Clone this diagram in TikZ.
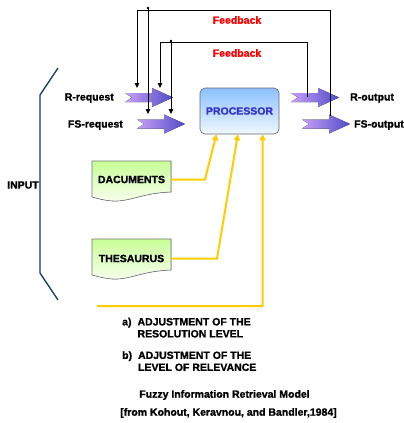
\documentclass[tikz,border=0pt]{standalone}
\usepackage{fontspec}
\setmainfont{Liberation Sans}[BoldFeatures={FakeBold=1.2}]
\usetikzlibrary{arrows.meta,calc}

\definecolor{arrowlight}{RGB}{200,160,245}
\definecolor{arrowdark}{RGB}{80,76,200}
\definecolor{proctop}{RGB}{140,192,255}
\definecolor{procbot}{RGB}{240,248,255}
\definecolor{proctext}{RGB}{50,50,200}
\definecolor{doctop}{RGB}{200,255,150}
\definecolor{docbot}{RGB}{248,255,240}
\definecolor{feedyellow}{RGB}{255,204,0}
\definecolor{bracketblue}{RGB}{20,60,110}

\begin{document}
\begin{tikzpicture}[x=1pt,y=-1pt,
  lbl/.style={font=\fontsize{10.5}{12}\selectfont\bfseries, inner sep=0pt},
  fb/.style={line width=0.8pt, -{Triangle[width=4.5pt,length=5pt]}},
  feed/.style={line width=2pt, draw=feedyellow, -{Triangle[width=6pt,length=6pt]}},
  proc/.style={lbl, draw=black!60, line width=0.6pt, rounded corners=5pt,
    minimum width=79pt, minimum height=46pt, top color=proctop, bottom color=procbot,
    text=proctext},
  doclbl/.style={lbl, minimum width=79pt},
  pics/fatarrow/.style={code={
    \fill[left color=arrowlight, right color=arrowdark]
      (0,-4.5) -- (27,-4.5) -- (27,-9.5) -- (48,0) -- (27,9.5) -- (27,4.5) -- (0,4.5) -- (7,0) -- cycle;}}
]
\useasboundingbox (0,0) rectangle (404,423);

% input bracket
\draw[bracketblue, line width=1.3pt] (58,68) -- (40,95) -- (40,273) -- (58,300);
\node[lbl] (input) at (23,185) {INPUT};

% documents
\foreach \dy in {0,78}
  \filldraw[draw=black!55, line width=0.6pt, top color=doctop, bottom color=docbot]
    (92,161+\dy) -- (171,161+\dy) -- (171,192+\dy)
    .. controls (142,193+\dy) and (130,202+\dy) .. (112,201+\dy)
    .. controls (102,200+\dy) and (96,198+\dy) .. (92,197+\dy) -- cycle;
\node[doclbl] (docs) at (131.5,179.5) {DACUMENTS};
\node[doclbl] (thes) at (131.5,258.5) {THESAURUS};

% processor
\node[proc] (proc) at (239.5,111) {PROCESSOR};

% fat arrows
\pic at (125,97.5) {fatarrow};
\pic at (137,124) {fatarrow};
\pic at (291,97.5) {fatarrow};
\pic at (302,124) {fatarrow};

\node[lbl, anchor=east] (rreq) at (114,98) {R-request};
\node[lbl, anchor=east] (fsreq) at (123,125) {FS-request};
\node[lbl, anchor=west] (rout) at (350,98) {R-output};
\node[lbl, anchor=west] (fsout) at (354,125) {FS-output};

% feedback loops
\coordinate (fsfb) at (330,116);
\coordinate (rfb) at (307,97);
\draw[fb] (fsfb) -- (330,10) -- (137,10) -- (137,88);
\fill (148,8) circle (1.4pt) coordinate (fsdot);
\draw[fb] (fsdot) -- (148,114);
\draw[fb] (rfb) -- (307,42) -- (160,42) -- (160,88);
\fill (171,41) circle (1.4pt) coordinate (rdot);
\draw[fb] (rdot) -- (171,114);
\node[lbl, text=red] (fb1) at (237,20) {Feedback};
\node[lbl, text=red] (fb2) at (237,53) {Feedback};

% yellow inputs into processor
\draw[feed] (docs.east) -- (205,179.5) -- ($(proc.south west)!0.21!(proc.south east)$);
\draw[feed] (thes.east) -- (217,258.5) -- ($(proc.south west)!0.48!(proc.south east)$);
\coordinate (adj) at (97,306);
\draw[feed] (adj) -- (262.5,306) -- ($(proc.south west)!0.79!(proc.south east)$);

% adjustments and caption
\node[lbl, anchor=west, align=left] (adja) at (122,329)
  {\begin{tabular}{@{}l@{\hspace{6pt}}l@{}}a) & ADJUSTMENT OF THE\\ & RESOLUTION LEVEL\end{tabular}};
\node[lbl, anchor=west, align=left] (adjb) at (122,362.5)
  {\begin{tabular}{@{}l@{\hspace{6pt}}l@{}}b) & ADJUSTMENT OF THE\\ & LEVEL OF RELEVANCE\end{tabular}};
\node[lbl] (title) at (224.5,395) {Fuzzy Information Retrieval Model};
\node[lbl] (cite) at (228.5,413) {[from Kohout, Keravnou, and Bandler,1984]};
\end{tikzpicture}
\end{document}
